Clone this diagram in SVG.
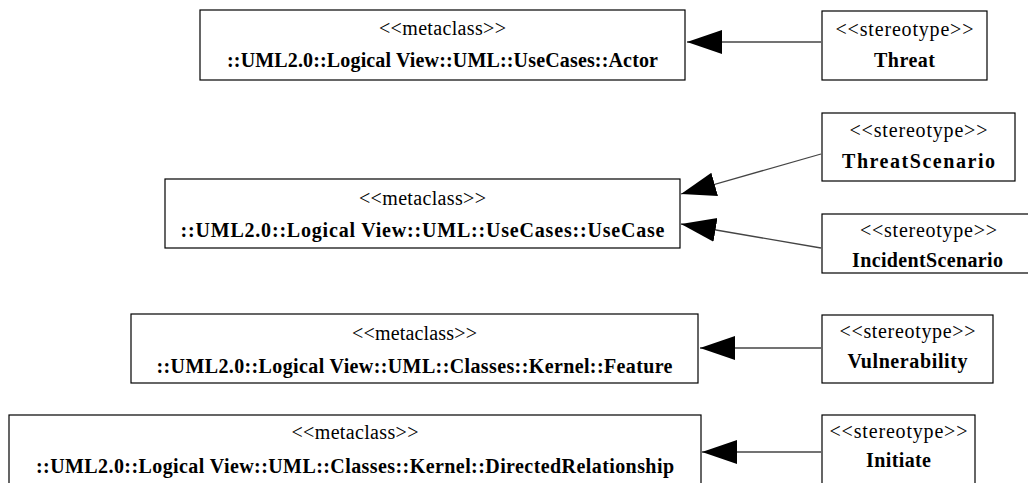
<svg xmlns="http://www.w3.org/2000/svg" width="1028" height="483" viewBox="0 0 1028 483">
<style>
.box{fill:#fff;stroke:#000;stroke-width:1.2}
.st{font-family:'Liberation Serif','Times New Roman',Times,serif;font-size:20px;fill:#000;text-anchor:middle}
.nm{font-family:'Liberation Serif','Times New Roman',Times,serif;font-size:20px;font-weight:700;fill:#000;text-anchor:middle}
.conn{stroke:#444;stroke-width:1.3;fill:none;marker-end:url(#tri)}
</style>
<defs>
<marker id="tri" markerUnits="userSpaceOnUse" markerWidth="36" markerHeight="26" refX="35" refY="12" orient="auto" viewBox="0 0 36 26">
<path d="M0,0 L35,12 L0,24 z" fill="#000"/>
</marker>
</defs>
<rect width="1028" height="483" fill="#fff"/>
<g id="connectors">
<line class="conn" x1="821" y1="42" x2="687" y2="42"/>
<line class="conn" x1="821" y1="154" x2="681" y2="194"/>
<line class="conn" x1="821" y1="248" x2="681" y2="224"/>
<line class="conn" x1="821" y1="348" x2="700" y2="348"/>
<line class="conn" x1="821" y1="452" x2="702" y2="452"/>
</g>
<g id="actor">
<rect class="box" x="200" y="10" width="485" height="70"/>
<text class="st" x="442.5" y="35" textLength="127" lengthAdjust="spacing">&lt;&lt;metaclass&gt;&gt;</text>
<text class="nm" x="442.5" y="67" textLength="431" lengthAdjust="spacing">::UML2.0::Logical View::UML::UseCases::Actor</text>
</g>
<g id="threat">
<rect class="box" x="822" y="11" width="165" height="69"/>
<text class="st" x="904.5" y="36" textLength="138" lengthAdjust="spacing">&lt;&lt;stereotype&gt;&gt;</text>
<text class="nm" x="904.5" y="67" textLength="61" lengthAdjust="spacing">Threat</text>
</g>
<g id="usecase">
<rect class="box" x="165" y="179" width="515" height="69"/>
<text class="st" x="422.5" y="205" textLength="127" lengthAdjust="spacing">&lt;&lt;metaclass&gt;&gt;</text>
<text class="nm" x="422.5" y="237" textLength="484" lengthAdjust="spacing">::UML2.0::Logical View::UML::UseCases::UseCase</text>
</g>
<g id="threatscenario">
<rect class="box" x="822" y="113" width="193" height="68"/>
<text class="st" x="918.5" y="137" textLength="138" lengthAdjust="spacing">&lt;&lt;stereotype&gt;&gt;</text>
<text class="nm" x="918.5" y="168" textLength="153" lengthAdjust="spacing">ThreatScenario</text>
</g>
<g id="incidentscenario">
<rect class="box" x="822" y="214" width="212" height="59"/>
<text class="st" x="928.5" y="237" textLength="137" lengthAdjust="spacing">&lt;&lt;stereotype&gt;&gt;</text>
<text class="nm" x="927.5" y="267" textLength="151" lengthAdjust="spacing">IncidentScenario</text>
</g>
<g id="feature">
<rect class="box" x="131" y="314" width="567" height="69"/>
<text class="st" x="414.5" y="340" textLength="125" lengthAdjust="spacing">&lt;&lt;metaclass&gt;&gt;</text>
<text class="nm" x="414.5" y="373" textLength="516" lengthAdjust="spacing">::UML2.0::Logical View::UML::Classes::Kernel::Feature</text>
</g>
<g id="vulnerability">
<rect class="box" x="822" y="315" width="171" height="68"/>
<text class="st" x="907.5" y="338" textLength="136" lengthAdjust="spacing">&lt;&lt;stereotype&gt;&gt;</text>
<text class="nm" x="907.5" y="368" textLength="120" lengthAdjust="spacing">Vulnerability</text>
</g>
<g id="directedrelationship">
<rect class="box" x="9" y="415" width="692" height="80"/>
<text class="st" x="355" y="439" textLength="127" lengthAdjust="spacing">&lt;&lt;metaclass&gt;&gt;</text>
<text class="nm" x="355" y="473" textLength="638" lengthAdjust="spacing">::UML2.0::Logical View::UML::Classes::Kernel::DirectedRelationship</text>
</g>
<g id="initiate">
<rect class="box" x="822" y="415" width="153" height="80"/>
<text class="st" x="898.5" y="438" textLength="138" lengthAdjust="spacing">&lt;&lt;stereotype&gt;&gt;</text>
<text class="nm" x="898.5" y="467" textLength="65" lengthAdjust="spacing">Initiate</text>
</g>
</svg>
